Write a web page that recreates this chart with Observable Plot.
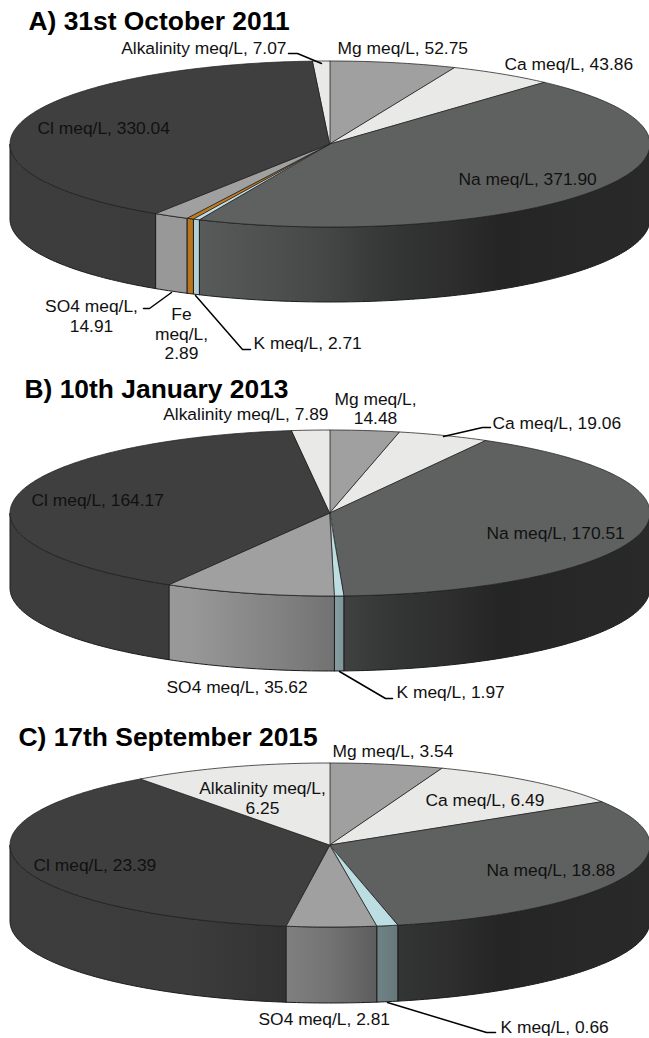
<!DOCTYPE html>
<html>
<head>
<meta charset="utf-8">
<script src="https://cdn.jsdelivr.net/npm/d3@7"></script>
<script src="https://cdn.jsdelivr.net/npm/@observablehq/plot@0.6"></script>
<style>
html,body{margin:0;padding:0;background:#fff}
svg{display:block}
</style>
</head>
<body>
<div id="chart"></div>
<script>
// Data, in meq/L
const ions = ["Mg","Ca","Na","K","Fe","SO4","Cl","Alkalinity"];
const valuesA = [52.75,43.86,371.90,2.71,2.89,14.91,330.04,7.07];
const valuesB = [14.48,19.06,170.51,1.97,0,35.62,164.17,7.89];
const valuesC = [3.54,6.49,18.88,0.66,0,2.81,23.39,6.25];

// Styling of the slices
const sliceColors = {Mg:"#a0a0a0",Ca:"#e9e9e7",Na:"#5f6160",K:"#bcdde2",Fe:"#c47a1e",SO4:"#a0a0a0",Cl:"#3f3f3f",Alkalinity:"#e9e9e7"};
const wallShadeX = [0,150,190,285,330,370,400,450,500,640,649];
const wallShade  = [.97,.95,.95,.8,.72,.6,.54,.47,.38,.42,.42];

// Page layout of each panel (pixels)
const panels = [
  {id:"A",values:valuesA,top:0,height:370,cy:144,ry:83,depth:75,
   title:"A) 31st October 2011",titleX:28,titleY:21,
   labels:[
    {t:"Alkalinity meq/L, 7.07",x:286,y:48,a:"end"},
    {t:"Mg meq/L, 52.75",x:337,y:48,a:"start"},
    {t:"Ca meq/L, 43.86",x:504,y:64,a:"start"},
    {t:"Cl meq/L, 330.04",x:37,y:128,a:"start"},
    {t:"Na meq/L, 371.90",x:458,y:179,a:"start"},
    {t:"SO4 meq/L,\n14.91",x:91,y:315,a:"middle",lh:1.13},
    {t:"Fe\nmeq/L,\n2.89",x:181,y:333,a:"middle",lh:1.13},
    {t:"K meq/L, 2.71",x:253,y:343,a:"start"}],
   leaders:[
    [[288,53],[297,53],[321,63]],
    [[143,308],[149,308],[171,292]],
    [[195,295],[242,349],[250,349]]]},
  {id:"B",values:valuesB,top:370,height:340,cy:513,ry:83,depth:75,
   title:"B) 10th January 2013",titleX:24,titleY:389,
   labels:[
    {t:"Alkalinity meq/L, 7.89",x:328,y:414,a:"end"},
    {t:"Mg meq/L,\n14.48",x:375,y:407.5,a:"middle",lh:1.1},
    {t:"Ca meq/L, 19.06",x:492,y:423,a:"start"},
    {t:"Cl meq/L, 164.17",x:31,y:500,a:"start"},
    {t:"Na meq/L, 170.51",x:486,y:533,a:"start"},
    {t:"SO4 meq/L, 35.62",x:166,y:687,a:"start"},
    {t:"K meq/L, 1.97",x:396,y:692,a:"start"}],
   leaders:[
    [[443,436],[482,427],[490,427]],
    [[339,671],[385,698],[392,698]]]},
  {id:"C",values:valuesC,top:710,height:328,cy:845,ry:82,depth:76,
   title:"C) 17th September 2015",titleX:18,titleY:737,
   labels:[
    {t:"Mg meq/L, 3.54",x:332,y:751,a:"start"},
    {t:"Alkalinity meq/L,\n6.25",x:262,y:797,a:"middle",lh:1.16},
    {t:"Ca meq/L, 6.49",x:425,y:800,a:"start"},
    {t:"Cl meq/L, 23.39",x:33,y:865,a:"start"},
    {t:"Na meq/L, 18.88",x:486,y:870,a:"start"},
    {t:"SO4 meq/L, 2.81",x:258,y:1019,a:"start"},
    {t:"K meq/L, 0.66",x:500,y:1027,a:"start"}],
   leaders:[
    [[387,1002],[486,1032],[495,1032]]]}
];
const cx = 330, rx = 320, pageWidth = 649;

function arc(a0, a1) {
  const n = Math.max(1, Math.ceil((a1 - a0) / (Math.PI / 180)));
  return d3.range(n + 1).map(i => {
    const a = a0 + (a1 - a0) * i / n;
    return {ux: Math.sin(a), uy: Math.cos(a)};
  });
}

function drawPanel(p) {
  const total = d3.sum(p.values);
  const slices = [];
  let acc = 0;
  ions.forEach((ion, i) => {
    const v = p.values[i];
    if (v > 0) {
      const a0 = acc / total * 2 * Math.PI;
      acc += v;
      slices.push({ion, a0, a1: acc / total * 2 * Math.PI, color: sliceColors[ion]});
    }
  });
  const depthU = p.depth / p.ry;
  const toX = px => (px - cx) / rx;
  const toY = py => (p.cy - py) / p.ry;

  const defs = () => {
    const d = d3.create("svg:defs");
    for (const s of slices) {
      const g = d.append("linearGradient")
        .attr("id", `wall-${p.id}-${s.ion}`)
        .attr("gradientUnits", "userSpaceOnUse")
        .attr("x1", 0).attr("x2", pageWidth).attr("y1", 0).attr("y2", 0);
      wallShadeX.forEach((x, i) => {
        const c = d3.rgb(s.color), m = wallShade[i];
        g.append("stop").attr("offset", x / pageWidth)
          .attr("stop-color", d3.rgb(c.r * m, c.g * m, c.b * m).formatHex());
      });
    }
    return d.node();
  };

  const walls = slices.flatMap(s => {
    const a0 = Math.max(s.a0, Math.PI / 2), a1 = Math.min(s.a1, 3 * Math.PI / 2);
    if (a1 <= a0) return [];
    return [Plot.area(arc(a0, a1), {
      x1: "ux", y1: d => d.uy, x2: "ux", y2: d => d.uy - depthU,
      fill: `url(#wall-${p.id}-${s.ion})`, stroke: "#1c1c1c", strokeWidth: 1
    })];
  });
  const tops = slices.map(s => Plot.area(arc(s.a0, s.a1), {
    x1: () => 0, y1: () => 0, x2: "ux", y2: "uy",
    fill: s.color, stroke: "#222", strokeWidth: 0.9, strokeOpacity: 0.85
  }));
  const leaders = p.leaders.map(pts => Plot.line(pts, {
    x: d => toX(d[0]), y: d => toY(d[1]), stroke: "#000", strokeWidth: 1.5
  }));
  const labels = p.labels.map(l => Plot.text([l], {
    x: d => toX(d.x), y: d => toY(d.y), text: "t", textAnchor: l.a, lineAnchor: "middle",
    lineHeight: l.lh || 1, fontSize: 17.4, fill: "#111"
  }));
  const title = Plot.text([p], {
    x: d => toX(d.titleX), y: d => toY(d.titleY), text: "title", textAnchor: "start", lineAnchor: "middle",
    fontSize: 26.4, fontWeight: "bold", fill: "#000"
  });

  return Plot.plot({
    width: pageWidth, height: p.height,
    margin: 0,
    style: {fontFamily: "'Liberation Sans', Arial, sans-serif", background: "#fff", overflow: "visible"},
    x: {axis: null, domain: [-1, 1], range: [cx - rx, cx + rx]},
    y: {axis: null, domain: [1, -1], range: [p.cy - p.ry - p.top, p.cy + p.ry - p.top]},
    marks: [defs, ...walls, ...tops, ...leaders, ...labels, title]
  });
}

const root = document.getElementById("chart");
panels.forEach(p => root.appendChild(drawPanel(p)));
</script>
</body>
</html>
